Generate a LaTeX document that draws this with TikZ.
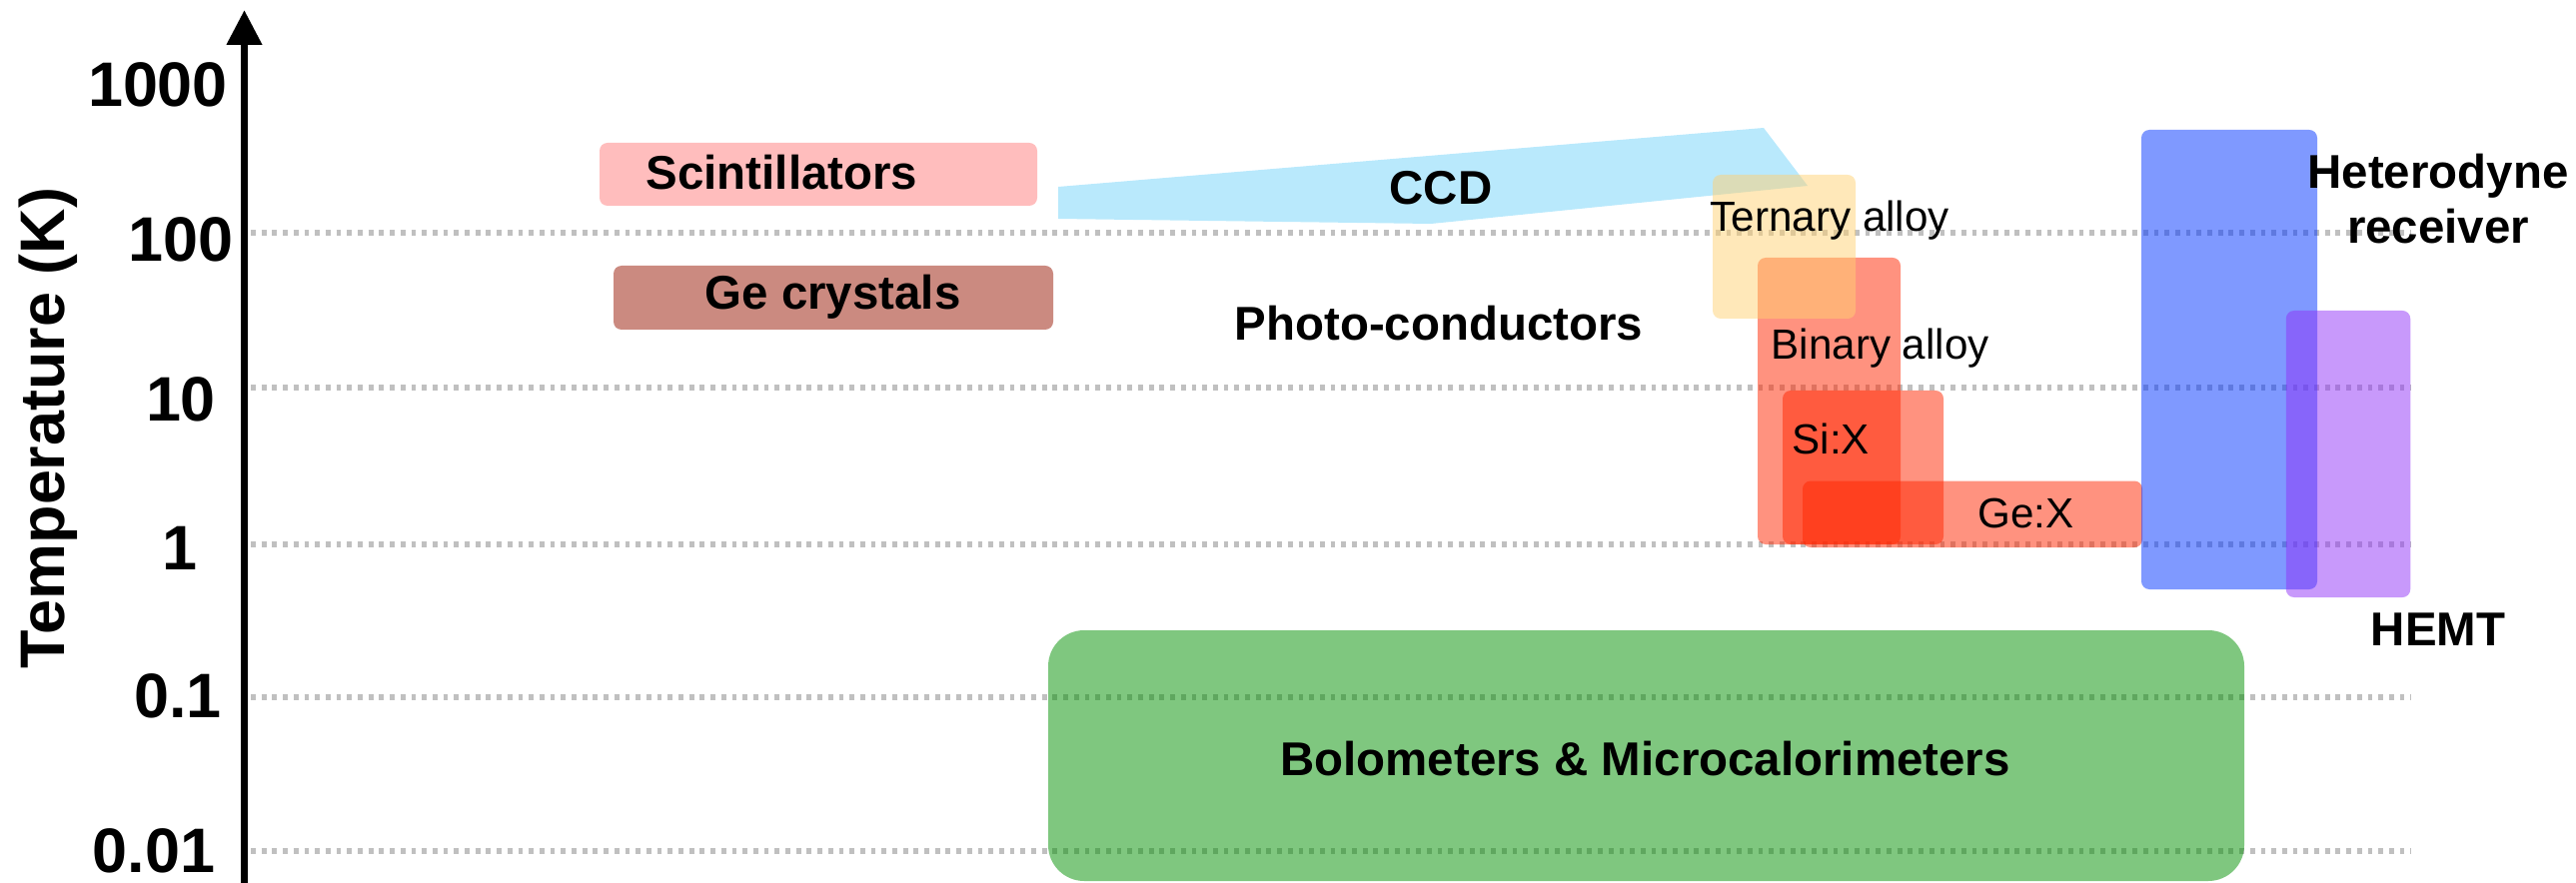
\documentclass[tikz,border=0pt]{standalone}
\usepackage{fontspec}
\setmainfont{Liberation Sans}
\usetikzlibrary{arrows.meta}

\begin{document}
\begin{tikzpicture}[y=-1cm,
    tband/.style={shape=rectangle,rounded corners=0.8mm,inner sep=0pt},
    gridline/.style={draw=tdet_grid,line width=0.55mm,dash pattern=on 0.48mm off 0.59mm},
    ticklabel/.style={inner sep=0pt,anchor=base,font=\fontsize{17.9}{21}\selectfont\bfseries},
    catlabel/.style={inner sep=0pt,anchor=base west,font=\fontsize{13.5}{15.8}\selectfont\bfseries},
    sublabel/.style={inner sep=0pt,anchor=base west,font=\fontsize{12}{14}\selectfont}]
    \definecolor{tdet_grid}{RGB}{192,192,192}
    \definecolor{tdet_scint}{RGB}{255,189,189}
    \definecolor{tdet_gecry}{RGB}{203,138,128}
    \definecolor{tdet_ccd}{RGB}{185,233,252}
    \definecolor{tdet_red}{RGB}{255,37,0}
    \definecolor{tdet_yellow}{RGB}{255,209,115}
    \definecolor{tdet_blue}{RGB}{0,51,255}
    \definecolor{tdet_purple}{RGB}{145,51,247}
    \definecolor{tdet_green}{RGB}{0,143,0}
    \useasboundingbox (0,0) rectangle (25.78,8.84);
    % temperature grid
    \draw[gridline] (2.51,2.33) -- (24.13,2.33);
    \draw[gridline] (2.51,3.88) -- (24.13,3.88);
    \draw[gridline] (2.51,5.45) -- (24.13,5.45);
    \draw[gridline] (2.51,6.98) -- (24.13,6.98);
    \draw[gridline] (2.51,8.52) -- (24.13,8.52);
    % detector ranges
    \node[tband,fill=tdet_scint,minimum width=4.38cm,minimum height=0.63cm] (scintbox) at (8.19,1.745) {};
    \node[tband,fill=tdet_gecry,minimum width=4.40cm,minimum height=0.64cm] (gecrybox) at (8.34,2.98) {};
    \fill[tdet_ccd] (10.59,1.87) -- (17.65,1.28) -- (18.09,1.86) -- (14.32,2.24) -- (10.59,2.19) -- cycle;
    \node[tband,fill=tdet_red,fill opacity=0.5,minimum width=1.43cm,minimum height=2.87cm] (binbox) at (18.305,4.015) {};
    \node[tband,fill=tdet_red,fill opacity=0.5,minimum width=1.61cm,minimum height=1.54cm] (sixbox) at (18.645,4.68) {};
    \node[tband,fill=tdet_red,fill opacity=0.5,minimum width=3.40cm,minimum height=0.665cm] (gexbox) at (19.74,5.1475) {};
    \node[tband,fill=tdet_yellow,fill opacity=0.5,minimum width=1.43cm,minimum height=1.44cm] (terbox) at (17.855,2.47) {};
    \node[tband,fill=tdet_blue,fill opacity=0.5,minimum width=1.76cm,minimum height=4.60cm] (hetbox) at (22.31,3.60) {};
    \node[tband,fill=tdet_purple,fill opacity=0.5,minimum width=1.245cm,minimum height=2.87cm] (hemtbox) at (23.50,4.545) {};
    \node[tband,rounded corners=3.6mm,fill=tdet_green,fill opacity=0.5,minimum width=11.97cm,minimum height=2.51cm] (bolobox) at (16.475,7.565) {};
    % axis
    \coordinate (axisbot) at (2.445,8.84);
    \coordinate (axistop) at (2.445,0.10);
    \draw[line width=0.75mm,-{Triangle[length=3.5mm,width=3.4mm]}] (axisbot) -- (axistop);
    \node[ticklabel] (t1000) at (1.58,1.07) {1000};
    \node[ticklabel] (t100) at (1.81,2.62) {100};
    \node[ticklabel] (t10) at (1.81,4.216) {10};
    \node[ticklabel] (t1) at (1.80,5.70) {1};
    \node[ticklabel] (t01) at (1.78,7.187) {0.1};
    \node[ticklabel] (t001) at (1.54,8.737) {0.01};
    \node[ticklabel,rotate=90] (ylabel) at (0.645,4.285) {Temperature (K)};
    % labels
    \node[catlabel] (scintlabel) at (6.46,1.90) {Scintillators};
    \node[catlabel] (gecrylabel) at (7.05,3.10) {Ge crystals};
    \node[catlabel] (ccdlabel) at (13.90,2.05) {CCD};
    \node[catlabel] (photolabel) at (12.35,3.41) {Photo-conductors};
    \node[sublabel] (terlabel) at (17.11,2.32) {Ternary alloy};
    \node[sublabel] (binlabel) at (17.72,3.60) {Binary alloy};
    \node[sublabel] (sixlabel) at (17.93,4.55) {Si:X};
    \node[sublabel] (gexlabel) at (19.79,5.29) {Ge:X};
    \node[catlabel,anchor=base,align=center] (hetlabel) at (24.40,2.44) {Heterodyne\\receiver};
    \node[catlabel,anchor=base] (hemtlabel) at (24.40,6.467) {HEMT};
    \node[catlabel,anchor=base] (bololabel) at (16.465,7.76) {Bolometers \& Microcalorimeters};
\end{tikzpicture}
\end{document}
